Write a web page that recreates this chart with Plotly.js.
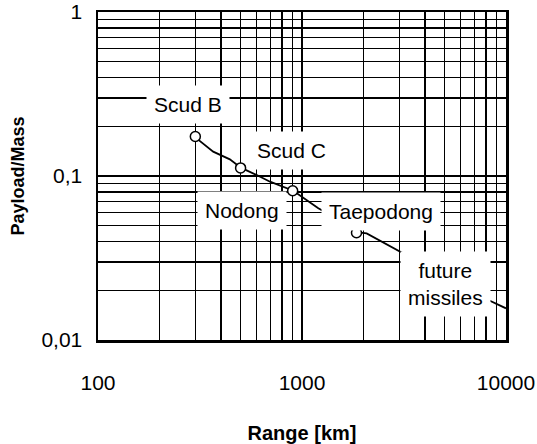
<!DOCTYPE html>
<html>
<head>
<meta charset="utf-8">
<script src="https://cdn.plot.ly/plotly-3.0.1.min.js"></script>
<style>
  html, body { margin: 0; padding: 0; background: #fff; }
  #chart { width: 537px; height: 444px; }
</style>
</head>
<body>
<div id="chart"></div>
<script>
// Trend curve: range (km) vs payload/mass ratio
const curveRange = [299, 367, 443, 501, 600, 697, 906, 1202, 1626, 1854, 2075, 3020, 8190, 10000];
const curvePayload = [0.1725, 0.1407, 0.1264, 0.1124, 0.1014, 0.0923, 0.0813, 0.0635, 0.0515, 0.0454, 0.0447, 0.0346, 0.01754, 0.0156];

// Missile data points
const missileNames = ['Scud B', 'Scud C', 'Nodong', 'Taepodong'];
const missileRange = [300, 500, 900, 1850];
const missilePayload = [0.174, 0.112, 0.0813, 0.0451];

// Label texts
const labelTexts = ['Scud B', 'Scud C', 'Nodong', 'Taepodong', 'future<br>missiles'];

// Tick labels
const xTickVals = [100, 1000, 10000];
const xTickText = ['100', '1000', '10000'];
const yTickVals = [0.01, 0.1, 1];
const yTickText = ['0,01', '0,1', '1'];

const FONT = 'Liberation Sans, Arial, sans-serif';

// label anchor positions (log10 coordinates, layout only)
const labelPosLog = [
  [2.441, -0.566],
  [2.950, -0.843],
  [2.708, -1.209],
  [3.386, -1.215],
  [3.701, -1.660]
];

const annotations = labelTexts.map((t, i) => ({
  text: t,
  x: labelPosLog[i][0],
  y: labelPosLog[i][1],
  xref: 'x', yref: 'y',
  showarrow: false,
  bgcolor: '#ffffff',
  borderpad: 7,
  font: { family: FONT, size: 21, color: '#000' },
  align: 'center'
}));

const traces = [
  {
    x: curveRange, y: curvePayload,
    type: 'scatter', mode: 'lines',
    line: { color: '#000', width: 1.8 },
    hoverinfo: 'skip', showlegend: false
  },
  {
    x: missileRange, y: missilePayload, text: missileNames,
    type: 'scatter', mode: 'markers',
    marker: { symbol: 'circle', size: 10, color: '#fff', line: { color: '#000', width: 1.5 } },
    showlegend: false
  }
];

const gridCommon = {
  showgrid: true, gridcolor: '#000', gridwidth: 1.5,
  showline: true, linecolor: '#000', linewidth: 2.5, mirror: true,
  zeroline: false,
  tickfont: { family: FONT, size: 21, color: '#000' }
};

const layout = {
  width: 537, height: 444,
  margin: { l: 98, r: 31, t: 12, b: 104 },
  paper_bgcolor: '#fff', plot_bgcolor: '#fff',
  showlegend: false,
  font: { family: FONT, color: '#000' },
  xaxis: Object.assign({}, gridCommon, {
    type: 'log', range: [2, 4],
    tickmode: 'array', tickvals: xTickVals, ticktext: xTickText,
    ticks: 'outside', ticklen: 22, tickcolor: 'rgba(0,0,0,0)',
    minor: { dtick: 'D1', showgrid: true, gridcolor: '#000', gridwidth: 1.5, ticks: '' },
    title: { text: 'Range [km]', font: { family: FONT, size: 20, weight: 'bold', color: '#000' }, standoff: 38 }
  }),
  yaxis: Object.assign({}, gridCommon, {
    type: 'log', range: [-2, 0],
    tickmode: 'array', tickvals: yTickVals, ticktext: yTickText,
    ticks: 'outside', ticklen: 9, tickcolor: 'rgba(0,0,0,0)',
    minor: { dtick: 'D1', showgrid: true, gridcolor: '#000', gridwidth: 1.5, ticks: '' },
    title: { text: 'Payload/Mass', font: { family: FONT, size: 18, weight: 'bold', color: '#000' }, standoff: 12 }
  }),
  annotations: annotations
};

Plotly.newPlot('chart', traces, layout, { staticPlot: true, displayModeBar: false });
</script>
</body>
</html>
